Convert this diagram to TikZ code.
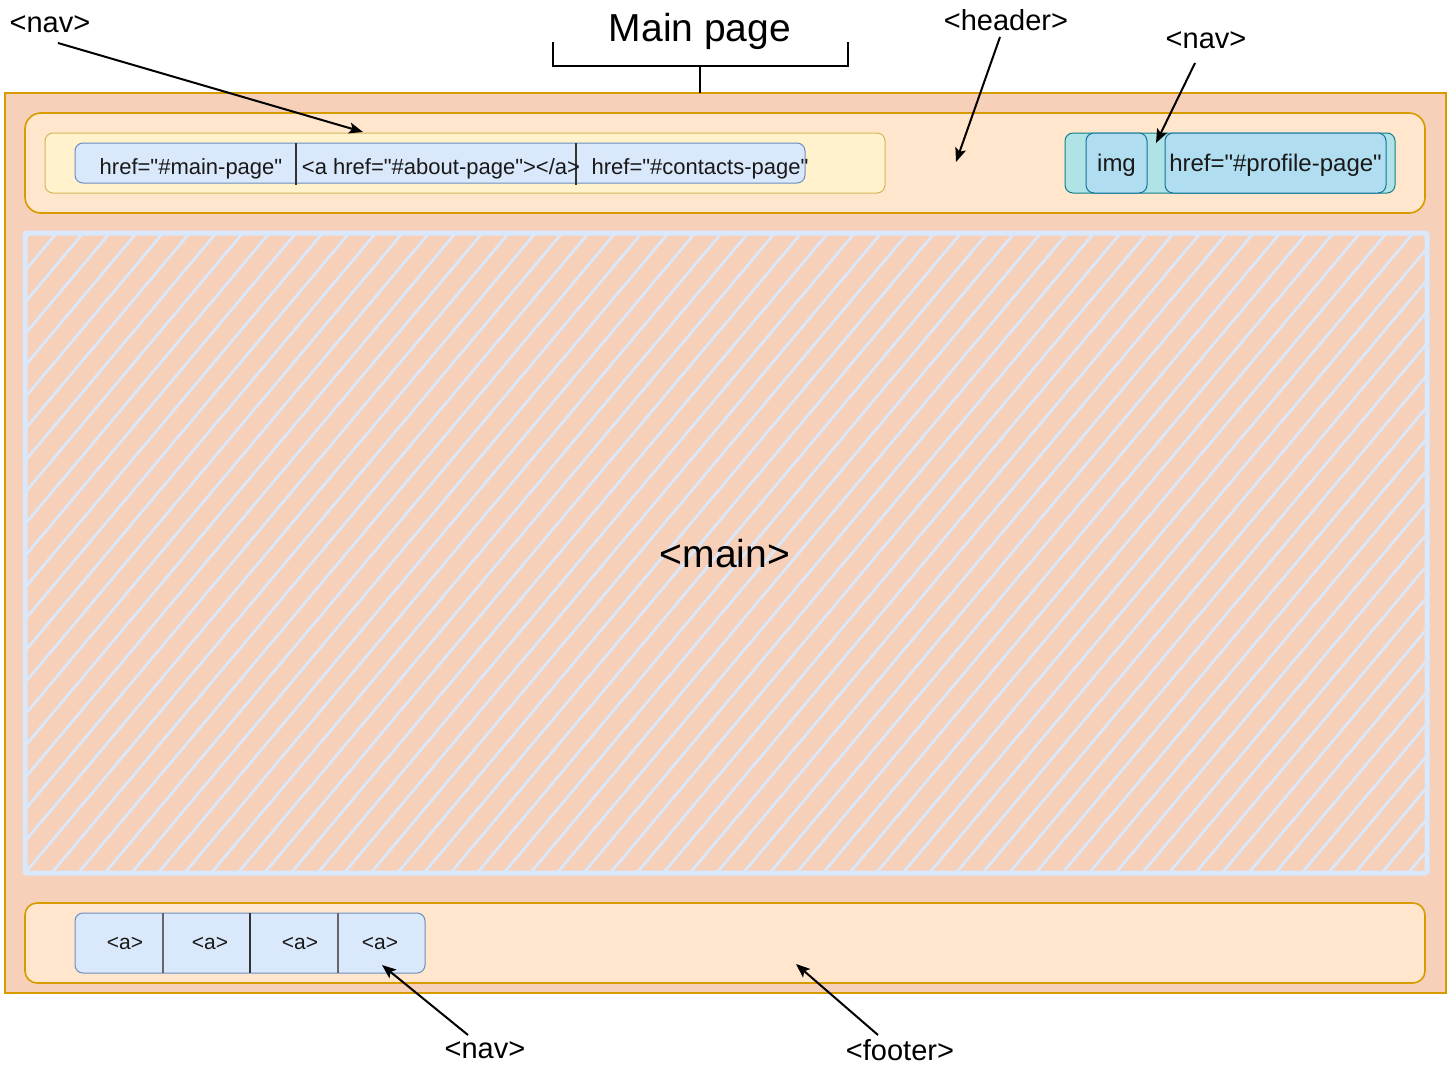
\documentclass[tikz,border=0pt]{standalone}
\usepackage{fontspec}
\setmainfont{Liberation Sans}
\usetikzlibrary{arrows.meta}
\definecolor{pageFill}{HTML}{F6D0B9}
\definecolor{pageStroke}{HTML}{D79B00}
\definecolor{headFill}{HTML}{FFE6CC}
\definecolor{navFill}{HTML}{FFF2CC}
\definecolor{navStroke}{HTML}{D6B656}
\definecolor{blueFill}{HTML}{DAE8FC}
\definecolor{blueStroke}{HTML}{6C8EBF}
\definecolor{tealFill}{HTML}{B0E3E6}
\definecolor{tealStroke}{HTML}{0E8088}
\definecolor{lbFill}{HTML}{B1DDF0}
\definecolor{lbStroke}{HTML}{10739E}
\definecolor{hatchCol}{HTML}{DAE8FC}
\newcommand\dq{\textquotedbl}
\begin{document}
\begin{tikzpicture}[x=0.5pt,y=-0.5pt,
  sz/.style 2 args={minimum width=#1*0.5pt, minimum height=#2*0.5pt},
  box/.style={draw, rectangle, inner sep=0pt, outer sep=0pt},
  orangebox/.style={box, fill=headFill, draw=pageStroke, line width=0.8pt},
  navbox/.style={box, fill=navFill, draw=navStroke, line width=0.5pt, rounded corners=4pt},
  bluebox/.style={box, fill=blueFill, draw=blueStroke, line width=0.5pt, rounded corners=4pt},
  tealbox/.style={box, fill=tealFill, draw=tealStroke, line width=0.5pt, rounded corners=4pt},
  lbbox/.style={box, fill=lbFill, draw=lbStroke, line width=0.5pt, rounded corners=4pt},
  itemtxt/.style={inner sep=0pt, font=\fontsize{11}{13}\selectfont, text=black!90},
  atxt/.style={inner sep=0pt, font=\fontsize{10.5}{12}\selectfont, text=black!90},
  proftxt/.style={inner sep=0pt, font=\fontsize{12}{14}\selectfont, text=black!90},
  lbl/.style={inner sep=0pt, font=\fontsize{14.5}{17}\selectfont},
  biglbl/.style={inner sep=0pt, font=\fontsize{19.5}{22}\selectfont},
  divider/.style={line width=0.6pt, draw=black!80},
  arr/.style={-{Stealth[length=7pt,width=5.5pt,inset=1.5pt]}, line width=1pt, black},
  bracket/.style={line width=1.1pt, black},
]
\useasboundingbox (0,0) rectangle (1447,1067);

% page
\node[box, sz={1441}{900}, fill=pageFill, draw=pageStroke, line width=1pt] (page) at (725.5,543) {};

% header
\node[orangebox, sz={1400}{100}, rounded corners=8pt] (header) at (725,163) {};
\node[navbox, sz={840}{60}] (navL) at (465,163) {};
\node[bluebox, sz={730}{40}] (navbar) at (440,163) {};
\draw[divider] (296,143) -- (296,185);
\draw[divider] (576,143) -- (576,185);
\node[itemtxt] (t1) at (191,169) {href=\dq\#main-page\dq};
\node[itemtxt] (t2) at (441,169) {<a href=\dq\#about-page\dq></a>};
\node[itemtxt] (t3) at (700,169) {href=\dq\#contacts-page\dq};

\node[tealbox, sz={330}{60}] (navR) at (1230,163) {};
\node[lbbox, sz={61}{60}] (img) at (1116.5,163) {};
\node[lbbox, sz={221}{60}] (prof) at (1275.5,163) {};
\node[proftxt] at ([yshift=-1pt]img.center) {img};
\node[proftxt] at ([yshift=-1pt]prof.center) {href=\dq\#profile-page\dq};

% main hatched area
\begin{scope}
  \clip (25,233) rectangle (1427,873);
  \foreach \i in {-21,...,53} {
    \draw[hatchCol, line width=1.4pt] ({25+\i*26.6},873) -- ({25+\i*26.6+537},233);
  }
\end{scope}
\node[box, sz={1402}{640}, draw=hatchCol, line width=2.5pt, rounded corners=1pt] (main) at (726,553) {};
\node[biglbl] (mainlbl) at (725,554) {<main>};

% footer
\node[orangebox, sz={1400}{80}, rounded corners=6pt] (footer) at (725,943) {};
\node[bluebox, sz={350}{60}] (fnav) at (250,943) {};
\draw[divider, draw=black!60] (163,913) -- (163,973);
\draw[divider] (250,913) -- (250,973);
\draw[divider, draw=black!60] (338,913) -- (338,973);
\node[atxt] (a1) at (125,943) {<a>};
\node[atxt] (a2) at (210,943) {<a>};
\node[atxt] (a3) at (300,943) {<a>};
\node[atxt] (a4) at (380,943) {<a>};

% title bracket
\node[biglbl] (title) at (700,31) {Main page};
\coordinate (brL) at (553,42);
\coordinate (brLb) at (553,66);
\coordinate (brRb) at (848,66);
\coordinate (brR) at (848,42);
\coordinate (stemTop) at (700,66);
\draw[bracket] (brL) -- (brLb) -- (brRb) -- (brR);
\draw[bracket] (stemTop) -- (stemTop |- page.north);

% labels and arrows
\node[lbl] (navTL) at (50,24) {<nav>};
\node[lbl] (headerlbl) at (1006,20) {<header>};
\node[lbl] (navTR) at (1206,40) {<nav>};
\node[lbl] (navB) at (485,1050) {<nav>};
\node[lbl] (footerlbl) at (900,1050) {<footer>};

\coordinate (sNavL) at (58,43);
\coordinate (sHead) at (1000,37);
\coordinate (sNavR) at (1195,63);
\coordinate (sNavB) at (468,1035);
\coordinate (sFoot) at (878,1035);
\coordinate (pNavL) at (363,132);
\coordinate (pHead) at (956,162);
\coordinate (pNavR) at (1156,143);
\coordinate (pNavB) at (382,965);
\coordinate (pFoot) at (796,964);

\draw[arr] (sNavL) -- (pNavL);
\draw[arr] (sHead) -- (pHead);
\draw[arr] (sNavR) -- (pNavR);
\draw[arr] (sNavB) -- (pNavB);
\draw[arr] (sFoot) -- (pFoot);
\end{tikzpicture}
\end{document}
